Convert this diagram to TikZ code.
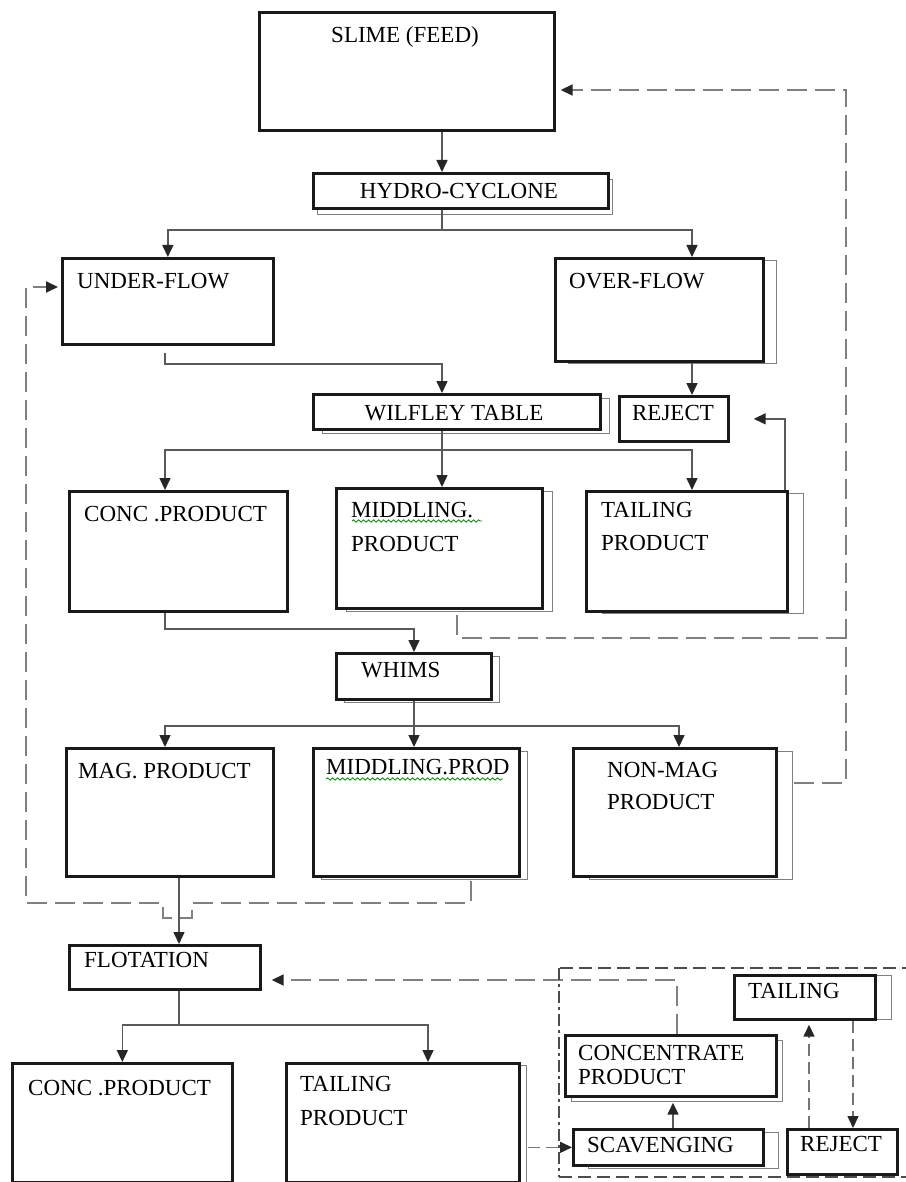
\documentclass[tikz,border=0pt]{standalone}
\usepackage{fontspec}
\setmainfont{Liberation Serif}
\usetikzlibrary{arrows.meta,shadows,decorations.pathmorphing}

\begin{document}
\begin{tikzpicture}[x=1pt,y=-1pt,
  >={Triangle[length=12pt,width=11pt,color=black!85]},
  box/.style={draw=black!90, line width=2.7pt, fill=white, inner sep=0pt, anchor=north west},
  shbox/.style 2 args={box, copy shadow={shadow xshift=#1pt, shadow yshift=-#2pt, draw=black!50, line width=1.3pt, fill=white}},
  txt/.style={anchor=base west, inner sep=0pt, font=\fontsize{23}{27}\selectfont},
  flow/.style={draw=black!65, line width=1.5pt},
  back/.style={draw=black!50, line width=1.8pt, dash pattern=on 20pt off 8pt},
  backs/.style={draw=black!55, line width=1.5pt, dash pattern=on 12pt off 6pt},
  encl/.style={draw=black!70, line width=2.8pt, dash pattern=on 13pt off 6pt},
  squig/.style={draw=green!55!black, line width=0.8pt, decorate, decoration={snake, amplitude=1.2pt, segment length=5pt}}]
\fill[white] (0,0) rectangle (905,1182);
\useasboundingbox (0,0) rectangle (905,1182);

% boxes
\node[box, minimum width=295pt, minimum height=118pt] (slime) at (258,11) {};
\node[shbox={4}{6}, minimum width=295pt, minimum height=35pt] (hydro) at (312,172) {};
\node[box, minimum width=211pt, minimum height=86pt] (uflow) at (61,257) {};
\node[shbox={13}{2}, minimum width=208pt, minimum height=103pt] (oflow) at (554,257) {};
\node[shbox={9}{4}, minimum width=287pt, minimum height=35pt] (wilf) at (312,393) {};
\node[box, minimum width=109pt, minimum height=45pt] (rej1) at (618,395) {};
\node[box, minimum width=218pt, minimum height=120pt] (conc1) at (68,490) {};
\node[shbox={10}{3}, minimum width=206pt, minimum height=120pt] (midd1) at (335,487) {};
\node[shbox={16}{2}, minimum width=201pt, minimum height=120pt] (tail1) at (585,490) {};
\node[shbox={8}{3}, minimum width=155pt, minimum height=46pt] (whims) at (335,652) {};
\node[box, minimum width=207pt, minimum height=128pt] (mag) at (65,747) {};
\node[shbox={8}{3}, minimum width=206pt, minimum height=128pt] (midd2) at (312,747) {};
\node[shbox={16}{3}, minimum width=203pt, minimum height=128pt] (nonmag) at (572,747) {};
\node[box, minimum width=191pt, minimum height=44pt] (flot) at (68,944) {};
\node[box, minimum width=220pt, minimum height=119pt] (conc2) at (11,1062) {};
\node[shbox={7}{2}, minimum width=233pt, minimum height=119pt] (tail2) at (285,1062) {};
\node[shbox={6}{5}, minimum width=211pt, minimum height=61pt] (conc3) at (564,1034) {};
\node[shbox={15}{3}, minimum width=190pt, minimum height=36pt] (scav) at (572,1128) {};
\node[shbox={16}{0}, minimum width=141pt, minimum height=44pt] (tail3) at (733,974) {};
\node[box, minimum width=110pt, minimum height=45pt] (rej2) at (786,1128) {};

% texts
\node[txt, anchor=base] (slime-t) at (405,43) {SLIME (FEED)};
\node[txt, anchor=base] (hydro-t) at (459,199) {HYDRO-CYCLONE};
\node[txt] (uflow-t) at (77,288) {UNDER-FLOW};
\node[txt] (oflow-t) at (569,288) {OVER-FLOW};
\node[txt, anchor=base] (wilf-t) at (454,420) {WILFLEY TABLE};
\node[txt, anchor=base] (rej1-t) at (673,420) {REJECT};
\node[txt] (conc1-t) at (84,521) {CONC .PRODUCT};
\node[txt] (midd1-t) at (351,517) {MIDDLING.};
\node[txt] (midd1-t2) at (351,551) {PRODUCT};
\node[txt] (tail1-t) at (601,517) {TAILING};
\node[txt] (tail1-t2) at (601,550) {PRODUCT};
\node[txt] (whims-t) at (361,677) {WHIMS};
\node[txt] (mag-t) at (78,778) {MAG. PRODUCT};
\node[txt] (midd2-t) at (326,774) {MIDDLING.PROD};
\node[txt] (nonmag-t) at (607,777) {NON-MAG};
\node[txt] (nonmag-t2) at (607,809) {PRODUCT};
\node[txt] (flot-t) at (84,967) {FLOTATION};
\node[txt] (conc2-t) at (28,1095) {CONC .PRODUCT};
\node[txt] (tail2-t) at (300,1091) {TAILING};
\node[txt] (tail2-t2) at (300,1125) {PRODUCT};
\node[txt] (conc3-t) at (578,1060) {CONCENTRATE};
\node[txt] (conc3-t2) at (578,1084) {PRODUCT};
\node[txt] (scav-t) at (587,1152) {SCAVENGING};
\node[txt] (tail3-t) at (748,998) {TAILING};
\node[txt] (rej2-t) at (800,1151) {REJECT};
\draw[squig] (352,521) -- (482,521);
\draw[squig] (326,779) -- (503,779);

% split points
\coordinate (hs) at (442,230);
\coordinate (ws) at (442,450);
\coordinate (vs) at (414,726);
\coordinate (fs) at (179,1025);

% main flow
\draw[flow,->] (slime.south -| hs) -- (hydro.north -| hs);
\draw[flow] (hydro.south -| hs) -- (hs);
\draw[flow,->] (hs) -| (uflow.north);
\draw[flow,->] (hs) -| (oflow.north -| 692,0);
\draw[flow,->,shorten <=7pt] (uflow.south -| 165,0) |- (442,364) -- (wilf.north -| 442,0);
\draw[flow,->] (oflow.south -| 692,0) -- (rej1.north -| 692,0);
\draw[flow] (wilf.south -| ws) -- (ws);
\draw[flow,->] (ws) -| (conc1.north -| 165,0);
\draw[flow,->] (ws) -- (midd1.north -| ws);
\draw[flow,->] (ws) -| (tail1.north -| 692,0);
\draw[flow,->] (tail1.north -| 785,0) |- ([xshift=24pt]rej1.east);
\draw[flow,->] (conc1.south -| 165,0) |- (414,629) -- (whims.north -| 414,0);
\draw[flow] (whims.south -| vs) -- (vs);
\draw[flow,->] (vs) -| (mag.north -| 165,0);
\draw[flow,->] (vs) -- (midd2.north -| vs);
\draw[flow,->] (vs) -| (nonmag.north -| 679,0);
\draw[flow,->] (mag.south -| fs) -- (flot.north -| fs);
\draw[flow] (flot.south -| fs) -- (fs);
\draw[flow,->] (fs) -| (conc2.north);
\draw[flow,->] (fs) -| (tail2.north -| 428,0);
\draw[flow,->] (scav.north -| 673,0) -- ([yshift=-5pt]conc3.south -| 673,0);

% returns (dashed)
\draw[back] ([yshift=-5pt]midd1.south -| 457,0) |- (846,638);
\draw[back,->] ([xshift=16pt]nonmag.east |- 0,783) -| (846,90) -- ([xshift=5pt]slime.east |- 0,90);
\draw[back,->] ([yshift=-3pt]midd2.south -| 471,0) |- (192,903) -- (192,918) -- (163,918) -- (163,903) -| (26,287) -- ([xshift=-3pt]uflow.west |- 0,287);
\draw[back,->] (conc3.north -| 677,0) |- ([xshift=10pt]flot.east |- 0,980);
\draw[backs,->] ([xshift=7pt]tail2.east |- scav.west) -- (scav.west);
\draw[backs,->] (rej2.north -| 809,0) -- ([yshift=-4pt]tail3.south -| 809,0);
\draw[backs,->] (tail3.south -| 853,0) -- (rej2.north -| 853,0);

% scavenging circuit
\draw[encl] (915,968) -- (559,968);
\draw[encl, line width=2.2pt, dash pattern=on 12pt off 4pt on 3pt off 4pt] (559,968) -- (559,1177);
\draw[encl] (559,1177) -- (915,1177);
\end{tikzpicture}
\end{document}
